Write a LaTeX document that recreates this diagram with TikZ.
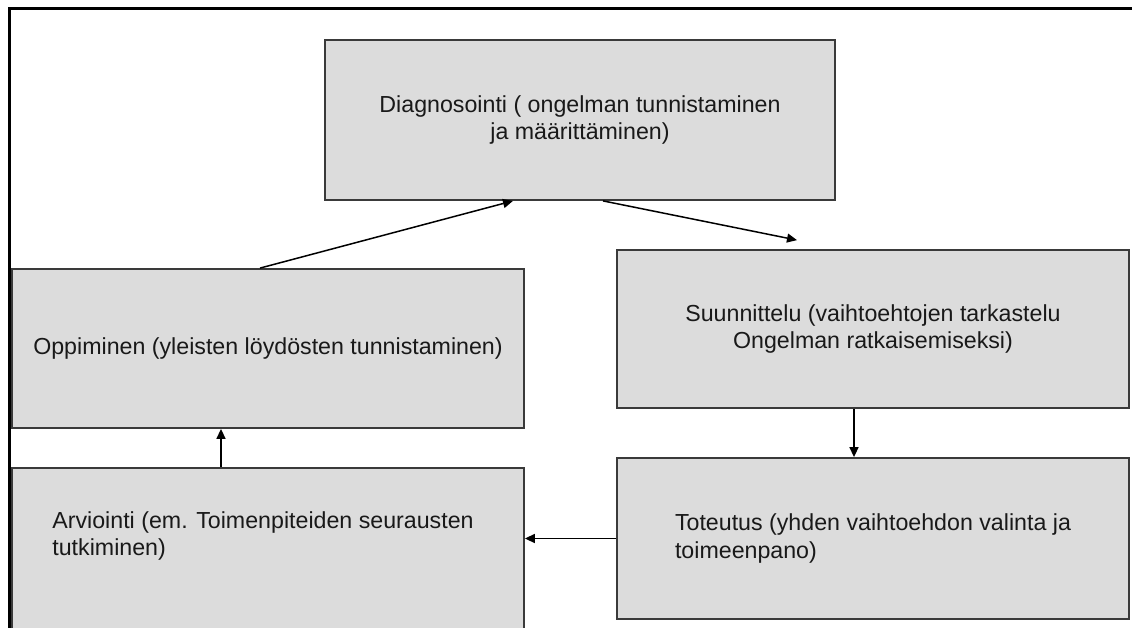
\documentclass[tikz,border=0pt]{standalone}
\usepackage{fontspec}
\setmainfont{Liberation Sans}
\usetikzlibrary{arrows.meta}
\definecolor{boxfill}{HTML}{DCDCDC}
\definecolor{boxline}{HTML}{3A3A3A}
\tikzset{
  stage/.style={draw=boxline, fill=boxfill, line width=1.8pt, minimum width=512pt, inner sep=0pt,
    font=\fontsize{23.2}{27.5}\selectfont, text=black!90},
  label/.style={font=\fontsize{23.2}{27.5}\selectfont, text=black!90, inner sep=0pt},
  flow/.style={line width=1.5pt, -{Triangle[length=10pt,width=9pt]}},
}
\begin{document}
\begin{tikzpicture}[x=1pt,y=-1pt]
\useasboundingbox (0,0) rectangle (1132,628);
\fill[white] (0,0) rectangle (1132,628);
% frame
\draw[line width=3pt] (9,640) -- (9,9) -- (1140,9);
% boxes
\node[stage, minimum width=510pt, minimum height=160pt, align=center] (diag) at (580,120)
  {Diagnosointi ( ongelman tunnistaminen\\ja määrittäminen)};
\node[stage, minimum height=158pt, align=center] (suun) at (873,329)
  {Suunnittelu (vaihtoehtojen tarkastelu\\Ongelman ratkaisemiseksi)};
\node[stage, minimum height=159pt] (opp) at (268,348.5)
  {Oppiminen (yleisten löydösten tunnistaminen)};
\node[stage, minimum height=180pt] (arv) at (268,558) {};
\node[label, align=left] (arvtext) at (263,536)
  {Arviointi (em. Toimenpiteiden seurausten\\tutkiminen)};
\node[stage, minimum height=161pt, align=left] (tot) at (873,538.5)
  {Toteutus (yhden vaihtoehdon valinta ja\\toimeenpano)};
% connectors
\draw[flow] ([xshift=-8pt]opp.north) -- ([xshift=-67pt]diag.south);
\draw[flow] ([xshift=23pt]diag.south) -- ([xshift=-76pt,yshift=9pt]suun.north);
\draw[flow] ([xshift=-19pt]suun.south) -- ([xshift=-19pt]tot.north);
\draw[flow] (tot.west) -- (arv.east |- tot.west);
\draw[flow] ([xshift=-47pt]arv.north) -- ([xshift=-47pt]opp.south);
\end{tikzpicture}
\end{document}
